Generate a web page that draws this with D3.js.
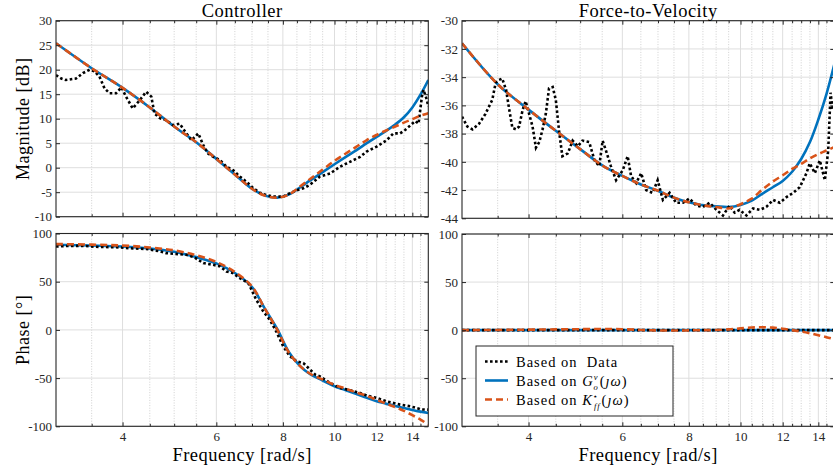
<!DOCTYPE html>
<html><head><meta charset="utf-8">
<script src="https://cdn.jsdelivr.net/npm/d3@7"></script>
<style>
html,body{margin:0;padding:0;background:#fff;overflow:hidden;}
svg{display:block;font-family:"Liberation Serif","DejaVu Serif",serif;}
</style></head><body>
<svg id="chart" width="850" height="470"></svg>
<script>
// ---------- data ----------
const panelTitles = ["Controller", "Force-to-Velocity"];
const xMajorTicks = [4, 6, 8, 10, 12, 14];
const xMinorTicks = [3.5, 4.5, 5, 5.5, 6.5, 7, 7.5, 8.5, 9, 9.5, 10.5, 11, 11.5, 12.5, 13, 13.5, 14.5];
const ctrlMagTicks = [-10, -5, 0, 5, 10, 15, 20, 25, 30];
const fvMagTicks = [-44, -42, -40, -38, -36, -34, -32, -30];
const phaseTicks = [-100, -50, 0, 50, 100];

// model curves, sampled at these frequencies [rad/s]
const freqGrid = [3.0,3.5,4.0,4.5,5.0,5.5,6.0,6.5,7.0,7.4,7.8,8.2,8.6,9.0,9.5,10.0,10.5,11.0,11.5,12.0,12.5,13.0,13.5,14.0,14.5,15.0];
const ctrlMagG = [25.4,20.3,16.3,12.3,8.4,5.2,1.8,-1.4,-4.3,-5.7,-6.1,-5.5,-4.1,-2.6,-0.9,0.7,2.2,3.6,5.0,6.3,7.5,8.8,10.3,12.3,14.9,17.9];
const ctrlMagK = [25.4,20.3,16.3,12.3,8.4,5.2,1.8,-1.4,-4.3,-5.7,-6.1,-5.5,-3.9,-2.3,-0.4,1.4,2.9,4.3,5.65,6.7,7.6,8.4,9.2,9.9,10.6,11.1];
const fvMagG = [-31.6,-34.5,-36.3,-37.8,-39.1,-40.25,-41.0,-41.6,-42.05,-42.45,-42.75,-42.95,-43.1,-43.15,-43.2,-43.05,-42.75,-42.25,-41.8,-41.35,-40.7,-39.8,-38.6,-37.0,-35.2,-33.1];
const fvMagK = [-31.6,-34.5,-36.3,-37.8,-39.1,-40.25,-41.0,-41.6,-42.05,-42.45,-42.75,-42.95,-43.1,-43.2,-43.3,-43.0,-42.6,-41.95,-41.4,-40.95,-40.5,-40.15,-39.75,-39.45,-39.2,-38.95];
const ctrlPhaseG = [88.3,87.5,86.5,84.5,81.0,75.5,69.0,59.0,44.5,22.0,1.2,-22.5,-37.0,-46.0,-52.5,-58.5,-62.5,-66.5,-70.5,-74.0,-76.5,-79.0,-81.0,-83.0,-84.8,-86.2];
const ctrlPhaseK = [89.0,88.5,87.5,85.5,82.5,77.5,70.5,60.0,45.0,22.0,0.5,-23.0,-37.0,-45.5,-51.5,-57.0,-61.0,-65.0,-68.5,-72.5,-76.5,-80.0,-84.0,-88.5,-93.0,-98.3];
const fvPhaseG = [0,0,0,0,0,0,0,0,0,0,0,0,0,0,0,0,0,0,0,0,0,0,0,0,0,0];
const fvPhaseK = [0,0.2,0.5,0.8,1.0,1.2,1.0,0.2,-0.3,-0.4,-0.3,-0.1,0,0.2,0.8,1.8,2.7,3.0,2.6,1.5,0,-1.5,-3.3,-5.3,-7.3,-9.5];
const fvPhaseData = [0,0,0,0,0,0,0,0,0,0,0,0,0,0,0,0,0,0,0,0,0,0,0,0,0,0];

// measured data
const ctrlDataFreq = [3.00,3.07,3.13,3.27,3.37,3.47,3.54,3.62,3.70,3.78,3.89,3.98,4.06,4.18,4.31,4.43,4.53,4.59,4.70,4.83,4.97,5.12,5.27,5.39,5.55,5.67,5.79,5.92,6.09,6.27,6.45,6.64,6.84,7.04,7.24,7.45,7.67,8.01,8.25,8.49,8.74,8.99,9.39,9.81,10.24,10.69,11.17,11.49,12.00,12.53,12.90,13.28,13.57,13.87,14.17,14.38,14.59,14.69,14.91,15.00];
const ctrlDataMag = [18.9,18.2,17.9,18.2,19.3,20.0,19.7,18.6,16.2,15.2,15.2,16.4,14.5,12.1,13.8,15.5,14.5,11.1,10.1,9.7,8.7,9.0,7.0,5.6,7.0,4.6,2.9,2.2,1.6,0.2,-0.5,-1.8,-2.9,-4.2,-5.1,-5.6,-5.9,-5.9,-5.2,-4.6,-4.2,-3.5,-1.8,-1.2,0.2,1.2,2.2,3.3,4.3,5.6,7.0,7.0,7.7,8.6,9.5,9.0,14.5,15.9,13.8,12.5];
const ctrlPhaseDataFreq = [3.00,3.13,3.37,3.62,3.89,4.18,4.43,4.70,4.83,5.12,5.27,5.45,5.67,5.92,6.09,6.27,6.45,6.64,6.89,7.13,7.35,7.56,7.78,8.01,8.25,8.49,8.74,8.99,9.20,9.39,9.81,10.24,10.69,11.17,11.49,12.00,12.53,13.28,13.87,14.59,15.00];
const ctrlPhaseData = [86.5,87.0,87.2,86.0,85.8,84.5,84.0,81.5,79.6,78.5,77.9,75.5,69.3,67.5,66.0,60.6,58.9,53.7,48.5,31.3,19.2,10.5,-2.0,-17.0,-27.5,-32.6,-34.4,-41.0,-46.4,-48.2,-55.1,-60.3,-62.5,-65.5,-68.0,-70.6,-74.1,-77.5,-79.3,-82.5,-82.7];
const fvDataFreq = [3.00,3.07,3.14,3.23,3.32,3.42,3.47,3.52,3.57,3.63,3.68,3.73,3.79,3.84,3.90,3.95,4.01,4.07,4.13,4.19,4.25,4.31,4.37,4.44,4.50,4.57,4.63,4.74,4.84,4.95,5.05,5.20,5.32,5.43,5.51,5.59,5.71,5.84,6.01,6.14,6.23,6.37,6.51,6.65,6.84,6.99,7.15,7.36,7.57,7.80,8.02,8.26,8.50,8.75,9.01,9.27,9.54,9.75,9.96,10.26,10.56,10.87,11.18,11.51,11.85,12.20,12.55,12.92,13.30,13.49,13.79,14.09,14.40,14.61,14.76,14.89];
const fvDataMag = [-36.8,-37.5,-37.7,-37.3,-36.6,-35.6,-34.4,-34.2,-34.1,-34.9,-36.3,-37.6,-37.7,-37.5,-36.3,-35.7,-36.6,-37.5,-39.0,-38.6,-37.7,-36.6,-34.8,-34.7,-35.6,-38.0,-39.6,-39.4,-38.5,-38.9,-38.5,-38.6,-39.9,-40.3,-38.5,-39.2,-40.3,-41.3,-40.6,-39.6,-41.0,-41.5,-40.8,-42.0,-42.2,-41.3,-42.7,-42.2,-42.9,-42.9,-42.6,-43.1,-43.2,-42.9,-43.4,-43.8,-43.1,-43.6,-43.4,-43.8,-43.3,-43.4,-43.2,-42.7,-42.9,-42.5,-42.2,-41.8,-40.8,-40.1,-40.8,-39.9,-41.3,-39.2,-35.1,-36.3];

const legendLabels = ["Based on  Data", "Based on ", "Based on "];

// ---------- styles ----------
const C_DATA = "#000000", C_G = "#0072BD", C_K = "#D95319", C_AX = "#262626";
const FONT = "Liberation Serif";

const zip = (xs, ys) => xs.map((x, i) => [x, ys[i]]);

const panels = [
  {x0:56, x1:428.3, y0:20.7, y1:216.7, yd:[-10,30], yt:ctrlMagTicks, title:panelTitles[0], ylabel:"Magnitude [dB]", xlabels:false,
   data:zip(ctrlDataFreq, ctrlDataMag), g:zip(freqGrid, ctrlMagG), k:zip(freqGrid, ctrlMagK)},
  {x0:462, x1:834.3, y0:20.7, y1:218.3, yd:[-44,-30], yt:fvMagTicks, title:panelTitles[1], ylabel:null, xlabels:false,
   data:zip(fvDataFreq, fvDataMag), g:zip(freqGrid, fvMagG), k:zip(freqGrid, fvMagK)},
  {x0:56, x1:428.3, y0:233.5, y1:426.3, yd:[-100,100], yt:phaseTicks, title:null, ylabel:"Phase [°]", xlabels:true,
   data:zip(ctrlPhaseDataFreq, ctrlPhaseData), g:zip(freqGrid, ctrlPhaseG), k:zip(freqGrid, ctrlPhaseK)},
  {x0:462, x1:834.3, y0:234, y1:426.3, yd:[-100,100], yt:phaseTicks, title:null, ylabel:null, xlabels:true,
   data:zip(freqGrid, fvPhaseData), g:zip(freqGrid, fvPhaseG), k:zip(freqGrid, fvPhaseK)}
];

const svg = d3.select("#chart");
const defs = svg.append("defs");

panels.forEach((p, i) => {
  const x = d3.scaleLog().domain([3, 15]).range([p.x0, p.x1]);
  const y = d3.scaleLinear().domain(p.yd).range([p.y1, p.y0]);
  const g = svg.append("g");

  // grid
  g.append("g").selectAll("line").data(xMinorTicks).join("line")
    .attr("x1", d => x(d)).attr("x2", d => x(d)).attr("y1", p.y0).attr("y2", p.y1)
    .attr("stroke", "#c4c4c4").attr("stroke-width", 0.8).attr("stroke-dasharray", "1,1.6");
  g.append("g").selectAll("line").data(xMajorTicks).join("line")
    .attr("x1", d => x(d)).attr("x2", d => x(d)).attr("y1", p.y0).attr("y2", p.y1)
    .attr("stroke", "#dedede").attr("stroke-width", 1);
  g.append("g").selectAll("line").data(p.yt).join("line")
    .attr("x1", p.x0).attr("x2", p.x1).attr("y1", d => y(d)).attr("y2", d => y(d))
    .attr("stroke", "#dedede").attr("stroke-width", 1);

  // clip
  const cid = "clip" + i;
  defs.append("clipPath").attr("id", cid).append("rect")
    .attr("x", p.x0).attr("y", p.y0).attr("width", p.x1 - p.x0).attr("height", p.y1 - p.y0);
  const plot = g.append("g").attr("clip-path", `url(#${cid})`);

  const smooth = d3.line().x(d => x(d[0])).y(d => y(d[1])).curve(d3.curveCatmullRom.alpha(0.5));
  const raw = d3.line().x(d => x(d[0])).y(d => y(d[1]));

  plot.append("path").attr("d", smooth(p.g)).attr("fill", "none")
    .attr("stroke", C_G).attr("stroke-width", 2.6);
  plot.append("path").attr("d", raw(p.data)).attr("fill", "none")
    .attr("stroke", C_DATA).attr("stroke-width", 2.6).attr("stroke-dasharray", "2.6,2.4");
  plot.append("path").attr("d", smooth(p.k)).attr("fill", "none")
    .attr("stroke", C_K).attr("stroke-width", 2.6).attr("stroke-dasharray", "7,4");

  // axes (ticks inside, on all sides)
  const style = sel => {
    sel.select(".domain").remove();
    sel.attr("font-family", FONT).attr("font-size", 13);
    sel.selectAll("line").attr("stroke", C_AX);
    sel.selectAll("text").attr("fill", C_AX);
  };
  g.append("g").attr("transform", `translate(0,${p.y1})`)
    .call(d3.axisBottom(x).tickValues(xMajorTicks).tickSize(-4).tickSizeOuter(0).tickPadding(5)
      .tickFormat(p.xlabels ? d3.format("d") : () => "")).call(style);
  g.append("g").attr("transform", `translate(0,${p.y1})`)
    .call(d3.axisBottom(x).tickValues(xMinorTicks).tickSize(-2.5).tickSizeOuter(0).tickFormat(() => "")).call(style);
  g.append("g").attr("transform", `translate(0,${p.y0})`)
    .call(d3.axisTop(x).tickValues(xMajorTicks).tickSize(-4).tickSizeOuter(0).tickFormat(() => "")).call(style);
  g.append("g").attr("transform", `translate(0,${p.y0})`)
    .call(d3.axisTop(x).tickValues(xMinorTicks).tickSize(-2.5).tickSizeOuter(0).tickFormat(() => "")).call(style);
  g.append("g").attr("transform", `translate(${p.x0},0)`)
    .call(d3.axisLeft(y).tickValues(p.yt).tickSize(-4).tickSizeOuter(0).tickPadding(4)
      .tickFormat(d => String(d))).call(style);
  g.append("g").attr("transform", `translate(${p.x1},0)`)
    .call(d3.axisRight(y).tickValues(p.yt).tickSize(-4).tickSizeOuter(0).tickFormat(() => "")).call(style);

  // box
  g.append("rect").attr("x", p.x0).attr("y", p.y0).attr("width", p.x1 - p.x0).attr("height", p.y1 - p.y0)
    .attr("fill", "none").attr("stroke", C_AX).attr("stroke-width", 1.1);

  const cx = (p.x0 + p.x1) / 2;
  if (p.title) {
    svg.append("text").attr("x", cx).attr("y", 16.5).attr("text-anchor", "middle")
      .attr("font-size", 18.5).attr("letter-spacing", 0.5).attr("fill", "#000").text(p.title);
  }
  if (p.ylabel) {
    const cy = (p.y0 + p.y1) / 2;
    svg.append("text").attr("transform", `translate(28.5,${cy}) rotate(-90)`).attr("text-anchor", "middle")
      .attr("font-size", 18).attr("letter-spacing", 0.5).attr("fill", "#000").text(p.ylabel);
  }
  if (p.xlabels) {
    svg.append("text").attr("x", cx).attr("y", 461).attr("text-anchor", "middle")
      .attr("font-size", 18.5).attr("letter-spacing", 0.5).attr("fill", "#000").text("Frequency [rad/s]");
  }
});

// ---------- legend ----------
const lg = svg.append("g").attr("font-family", FONT);
lg.append("rect").attr("x", 476).attr("y", 346).attr("width", 197).attr("height", 70)
  .attr("fill", "#fff").attr("stroke", C_AX).attr("stroke-width", 1);
const rowsY = [361.5, 380.5, 399.5];
const lstyles = [
  {c:C_DATA, dash:"2.6,2.4"}, {c:C_G, dash:null}, {c:C_K, dash:"7,4"}
];
rowsY.forEach((ry, i) => {
  lg.append("line").attr("x1", 485).attr("x2", 508).attr("y1", ry).attr("y2", ry)
    .attr("stroke", lstyles[i].c).attr("stroke-width", 2.6)
    .attr("stroke-dasharray", lstyles[i].dash);
});
const FS = 14.5, LS = 1.0, SS = 8.5;
lg.append("text").attr("x", 516).attr("y", rowsY[0] + 5).attr("font-size", FS).attr("letter-spacing", LS)
  .style("white-space", "pre").text(legendLabels[0]);
const t1 = lg.append("text").attr("x", 516).attr("y", rowsY[1] + 5).attr("font-size", FS)
  .attr("letter-spacing", LS).style("white-space", "pre");
t1.append("tspan").text(legendLabels[1]);
t1.append("tspan").attr("font-style", "italic").text("G");
t1.append("tspan").attr("font-style", "italic").attr("font-size", SS).attr("dy", -5.5).text("v");
t1.append("tspan").attr("font-style", "italic").attr("font-size", SS).attr("dx", -5).attr("dy", 9.5).text("o");
t1.append("tspan").attr("dy", -4).attr("dx", 1).text("(");
t1.append("tspan").attr("font-style", "italic").text("ȷω");
t1.append("tspan").text(")");
const t2 = lg.append("text").attr("x", 516).attr("y", rowsY[2] + 5).attr("font-size", FS)
  .attr("letter-spacing", LS).style("white-space", "pre");
t2.append("tspan").text(legendLabels[2]);
t2.append("tspan").attr("font-style", "italic").text("K");
t2.append("tspan").attr("font-size", 8).attr("font-family", "DejaVu Sans").attr("dy", -5.5).text("⋆");
t2.append("tspan").attr("font-style", "italic").attr("font-size", SS).attr("dx", -5).attr("dy", 9.5).text("ff");
t2.append("tspan").attr("dy", -4).attr("dx", 1).text("(");
t2.append("tspan").attr("font-style", "italic").text("ȷω");
t2.append("tspan").text(")");
</script>
</body></html>
